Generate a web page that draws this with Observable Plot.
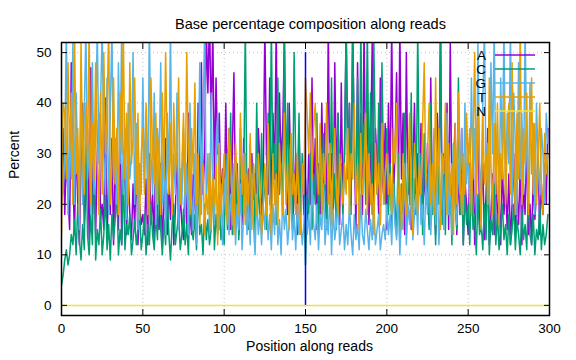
<!DOCTYPE html>
<html>
<head>
<meta charset="utf-8">
<script src="https://cdn.jsdelivr.net/npm/d3@7"></script>
<script src="https://cdn.jsdelivr.net/npm/@observablehq/plot@0.6"></script>
<style>
  html, body { margin: 0; padding: 0; background: #fff; }
  #chart { position: relative; width: 576px; height: 360px; font-family: "Liberation Sans", Arial, sans-serif; }
  #legend { position: absolute; left: 0; top: 0; pointer-events: none; }
</style>
</head>
<body>
<div id="chart"></div>
<script>
const title = "Base percentage composition along reads";
const xLabel = "Position along reads";
const yLabel = "Percent";
const xTicks = [0, 50, 100, 150, 200, 250, 300];
const yTicks = [0, 10, 20, 30, 40, 50];
const separator = [150];
const bases = ["A", "C", "G", "T", "N"];
const colors = ["#9400d3", "#009e73", "#56b4e9", "#e69f00", "#f0e442"];

const seriesA = [
20,35,18,30,22,15,48,25,14,33,20,12,28,40,16,22,35,13,47,18,26,14,30,38,17,
20,15,41,13,25,18,33,12,28,20,15,38,12,22,30,14,26,18,13,24,15,29,12,20,16,
18,14,25,12,30,16,22,13,35,18,15,28,12,20,33,14,24,17,26,12,19,30,15,22,16,
13,25,15,38,18,14,26,20,15,40,18,48,22,30,55,42,58,35,55,25,45,30,38,20,27,
18,40,22,35,15,30,46,20,28,14,25,16,33,18,22,27,15,30,21,26,19,35,28,17,24,
55,30,22,45,18,38,25,55,20,42,28,35,52,24,18,40,26,15,22,30,14,35,20,28,18,
25,16,30,20,45,22,33,15,28,18,40,24,36,15,55,22,30,18,48,25,38,16,44,20,30,
55,28,40,20,55,32,15,48,22,38,18,55,25,42,16,30,52,20,35,28,18,45,26,22,36,
15,40,24,55,20,30,46,18,55,25,38,14,50,22,33,15,28,40,18,30,22,36,18,26,20,
32,16,45,20,28,14,38,22,55,18,30,24,40,15,52,20,28,36,14,26,18,35,12,25,20,
14,28,18,32,12,24,40,16,20,28,13,22,35,12,18,26,14,30,16,22,12,28,18,24,15,
26,12,20,30,14,22,16,28,12,24,18,32,14,20,12,26,17,22,30,14,24,18,28,20,35
];
const seriesC = [
4,6,9,11,8,10,14,12,17,10,20,13,9,16,11,33,14,10,18,12,35,9,15,12,19,
10,14,22,11,16,9,18,13,17,24,10,15,12,28,11,16,14,18,10,13,17,12,15,19,11,
14,18,10,16,12,20,14,11,18,13,32,15,10,17,12,22,14,9,16,20,12,15,18,11,14,
19,12,16,10,22,15,13,18,11,24,14,16,10,20,13,17,12,15,26,11,18,14,22,13,16,
12,30,15,18,38,14,22,16,26,13,35,18,24,55,20,15,32,18,28,14,40,22,17,34,20,
26,15,38,20,55,24,32,16,45,22,28,18,55,25,40,20,34,16,50,28,22,38,18,30,24,
8,22,18,30,15,26,20,38,14,28,18,34,22,16,30,20,45,18,26,15,38,22,28,17,32,
55,25,40,18,55,30,22,45,16,55,28,36,20,55,24,42,18,52,30,22,40,16,48,26,20,
35,18,28,15,26,20,14,30,12,24,18,38,15,28,20,42,16,25,18,55,22,30,14,34,20,
26,15,40,18,22,12,30,20,55,16,28,14,36,18,24,12,32,20,15,45,18,26,12,22,16,
20,12,25,15,18,10,22,14,16,11,20,13,28,10,17,14,24,12,18,11,15,20,13,16,10,
18,12,15,20,11,17,14,10,19,13,16,11,22,14,12,18,10,15,13,20,11,16,12,14,18
];
const seriesG = [
40,22,30,55,18,35,25,52,20,42,28,15,45,20,38,55,25,32,18,48,22,35,55,28,40,
55,30,22,45,18,38,55,25,33,20,48,28,55,22,35,17,40,25,30,50,20,36,15,28,22,
45,25,38,18,55,30,22,42,16,35,28,48,20,33,14,38,25,55,18,30,22,42,15,27,20,
35,18,28,14,40,22,15,30,12,25,48,18,36,55,20,30,14,42,22,16,28,38,15,24,12,
25,18,30,14,22,16,28,12,20,15,24,11,18,30,14,20,12,26,16,10,22,14,18,12,20,
15,22,13,18,11,20,14,25,12,17,10,22,15,19,12,16,24,13,18,11,20,14,17,12,16,
22,14,18,12,25,16,13,20,11,18,15,24,12,17,14,22,10,19,13,16,21,12,15,18,11,
16,12,20,14,10,18,13,16,11,22,14,12,19,15,11,17,13,20,12,15,18,11,14,16,13,
20,14,18,12,24,16,13,22,10,18,15,28,12,20,16,25,13,18,22,14,30,16,20,12,24,
18,28,14,22,35,16,25,12,20,30,15,24,38,18,26,14,32,20,16,28,22,35,18,40,24,
30,20,45,25,35,18,52,28,22,40,55,25,32,20,48,30,55,24,36,18,45,28,55,22,38,
28,55,20,42,32,18,48,25,38,22,55,30,20,44,26,36,18,40,28,22,35,30,20,38,32
];
const seriesT = [
14,40,38,25,48,30,42,20,55,26,35,18,52,30,22,40,28,55,20,36,25,48,30,18,42,
22,50,30,38,55,20,28,45,24,35,18,42,30,55,25,38,20,48,28,33,45,22,38,17,30,
35,22,40,28,17,45,30,24,38,20,33,18,42,25,50,30,22,36,18,40,26,30,45,20,28,
38,22,50,30,18,35,26,44,20,30,16,24,28,14,22,18,30,15,25,20,28,12,32,18,24,
30,22,16,35,28,20,14,32,24,18,38,22,30,16,26,20,34,15,28,22,18,30,24,14,20,
28,18,36,22,14,30,20,26,16,32,24,18,38,20,28,15,34,22,26,18,30,20,14,28,22,
45,38,30,42,25,35,40,28,22,36,18,30,24,40,20,32,16,28,35,22,18,30,25,20,28,
22,35,18,30,25,40,20,28,15,34,22,26,38,18,30,20,24,14,32,22,28,16,36,20,26,
30,22,26,18,35,28,40,20,24,15,30,22,18,26,38,20,14,32,25,18,28,22,36,48,24,
30,40,20,28,18,45,22,35,15,30,26,40,18,32,22,28,14,36,20,42,26,18,30,22,38,
28,35,18,32,50,22,40,26,15,38,24,30,20,45,28,18,36,22,40,16,30,25,42,20,32,
40,22,48,28,18,38,25,55,20,35,28,42,18,30,45,22,36,20,28,40,24,18,34,26,30
];
const seriesN = [
0,0,0,0,0,0,0,0,0,0,0,0,0,0,0,0,0,0,0,0,0,0,0,0,0,
0,0,0,0,0,0,0,0,0,0,0,0,0,0,0,0,0,0,0,0,0,0,0,0,0,
0,0,0,0,0,0,0,0,0,0,0,0,0,0,0,0,0,0,0,0,0,0,0,0,0,
0,0,0,0,0,0,0,0,0,0,0,0,0,0,0,0,0,0,0,0,0,0,0,0,0,
0,0,0,0,0,0,0,0,0,0,0,0,0,0,0,0,0,0,0,0,0,0,0,0,0,
0,0,0,0,0,0,0,0,0,0,0,0,0,0,0,0,0,0,0,0,0,0,0,0,0,
0,0,0,0,0,0,0,0,0,0,0,0,0,0,0,0,0,0,0,0,0,0,0,0,0,
0,0,0,0,0,0,0,0,0,0,0,0,0,0,0,0,0,0,0,0,0,0,0,0,0,
0,0,0,0,0,0,0,0,0,0,0,0,0,0,0,0,0,0,0,0,0,0,0,0,0,
0,0,0,0,0,0,0,0,0,0,0,0,0,0,0,0,0,0,0,0,0,0,0,0,0,
0,0,0,0,0,0,0,0,0,0,0,0,0,0,0,0,0,0,0,0,0,0,0,0,0,
0,0,0,0,0,0,0,0,0,0,0,0,0,0,0,0,0,0,0,0,0,0,0,0,0
];

const allSeries = [seriesA, seriesC, seriesG, seriesT, seriesN];
const rows = [];
allSeries.forEach((vals, si) => {
  vals.forEach((v, i) => rows.push({pos: i, value: v, base: bases[si]}));
});

const W = 576, H = 360;
const mL = 61, mR = 27, mT = 42, mB = 45;
const font = "Liberation Sans, Arial, sans-serif";

const lineMarks = bases.map((b, si) =>
  Plot.line(rows.filter(r => r.base === b), {x: "pos", y: "value", stroke: colors[si], strokeWidth: 1.5, clip: true})
);

const plot = Plot.plot({
  width: W, height: H,
  marginLeft: mL, marginRight: mR, marginTop: mT, marginBottom: mB,
  style: {fontFamily: font, fontSize: "13px", color: "black", background: "white"},
  x: {domain: [0, 300], ticks: xTicks},
  y: {domain: [-2, 52], ticks: yTicks},
  marks: [
    Plot.gridX(xTicks, {stroke: "#c0c0c0", strokeOpacity: 1, strokeDasharray: "1,3"}),
    Plot.gridY(yTicks, {stroke: "#c0c0c0", strokeOpacity: 1, strokeDasharray: "1,3"}),
    ...lineMarks,
    Plot.ruleX(separator, {y1: 0, y2: 50, stroke: "#0000ff", strokeWidth: 1.5}),
    Plot.axisX(xTicks, {anchor: "bottom", tickSize: 0, tickPadding: 8, label: null, fontSize: 13.5}),
    Plot.axisY(yTicks, {anchor: "left", tickSize: 0, tickPadding: 10, label: null, fontSize: 13.5}),
    Plot.axisX(xTicks, {anchor: "bottom", tickSize: -6, tickFormat: () => "", label: null}),
    Plot.axisX(xTicks, {anchor: "top", tickSize: -6, tickFormat: () => "", label: null}),
    Plot.axisY(yTicks, {anchor: "left", tickSize: -6, tickFormat: () => "", label: null}),
    Plot.axisY(yTicks, {anchor: "right", tickSize: -6, tickFormat: () => "", label: null}),
    Plot.frame({stroke: "black", strokeWidth: 1.5}),
    Plot.text([title], {text: d => d, frameAnchor: "top", dy: -24, dx: 5, fontSize: 14.5}),
    Plot.text([xLabel], {text: d => d, frameAnchor: "bottom", dy: 35, dx: 4, fontSize: 14}),
    Plot.text([yLabel], {text: d => d, frameAnchor: "left", dx: -47, rotate: -90, fontSize: 14})
  ]
});

const chart = document.getElementById("chart");
chart.appendChild(plot);

// key (legend) drawn in the top-right corner of the frame
const legend = d3.select(chart).append("svg")
  .attr("id", "legend").attr("width", W).attr("height", H);
const right = W - mR;
bases.forEach((b, i) => {
  const y = mT + 13 + 14 * i;
  legend.append("text").text(b)
    .attr("x", right - 63).attr("y", y).attr("dy", "0.35em")
    .attr("text-anchor", "end").attr("font-family", font).attr("font-size", 13.5);
  legend.append("line")
    .attr("x1", right - 54).attr("x2", right - 14).attr("y1", y).attr("y2", y)
    .attr("stroke", colors[i]).attr("stroke-width", 1.5);
});
</script>
</body>
</html>
